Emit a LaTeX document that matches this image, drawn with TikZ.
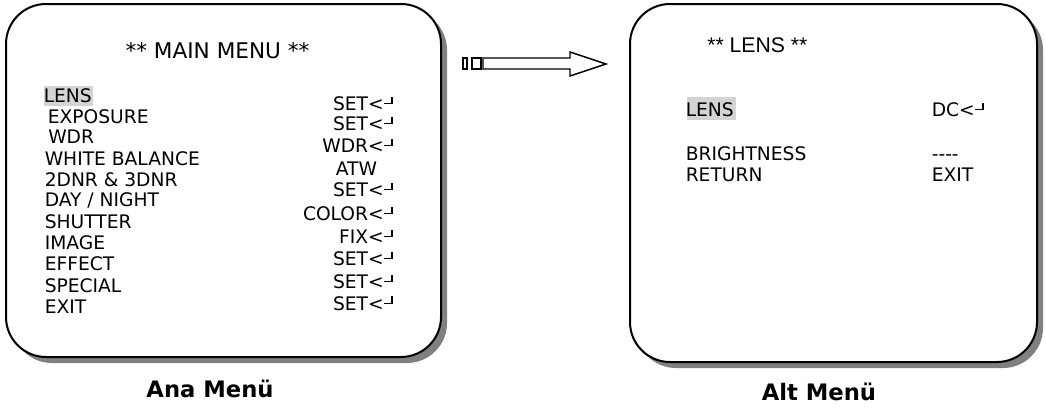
\documentclass[tikz,border=0pt]{standalone}
\usepackage{fontspec}
\setmainfont{DejaVu Sans}
\newfontfamily\arialf{Liberation Sans}
\definecolor{hl}{RGB}{212,212,212}
\definecolor{shd}{RGB}{128,128,128}
\newcommand\retsym{\kern0.03em\rule[0.34em]{0.38em}{0.07em}\rule[0.34em]{0.07em}{0.40em}}
\begin{document}
\begin{tikzpicture}[x=0.75pt,y=-0.75pt,
  txt/.style={inner sep=0pt, font=\fontsize{14}{16}\selectfont},
  item/.style={txt, anchor=base west},
  val/.style={txt, anchor=base east},
  menubox/.style={draw=black, line width=1.5pt, fill=white, rounded corners=30pt},
  shadowbox/.style={fill=shd, rounded corners=30pt},
  hlbox/.style={fill=hl, draw=none},
  arrowpart/.style={draw=black, line width=1.1pt, fill=white},
  caption/.style={inner sep=0pt, anchor=base, font=\fontsize{17}{20}\selectfont\bfseries}]
\useasboundingbox (0,0) rectangle (1046,407);
% left box
\fill[shadowbox] (12,10) rectangle (447,363);
\draw[menubox] (6,4) rectangle (441,357);
% right box
\fill[shadowbox] (636,10) rectangle (1043,368);
\draw[menubox] (630,4) rectangle (1037,362);
% arrow
\draw[arrowpart] (463,58) rectangle (467,69);
\draw[arrowpart] (472,58) rectangle (481,69);
\draw[arrowpart] (483,58) -- (570,58) -- (570,52) -- (606,64) -- (570,76) -- (570,69) -- (483,69) -- cycle;
% main menu
\node[inner sep=0pt, anchor=base, font=\fontsize{16.2}{19}\selectfont] (maintitle) at (217.5,58.5) {** MAIN MENU **};
\fill[hlbox] (44,86) rectangle (93,106);
\node[item] (mlens) at (43.5,102.8) {LENS};
\node[item] (mexp) at (47.5,123.3) {EXPOSURE};
\node[item] (mwdr) at (48,143.8) {WDR};
\node[item] (mwb) at (44.5,165.8) {WHITE BALANCE};
\node[item] (mdnr) at (44.5,186.8) {2DNR \& 3DNR};
\node[item] (mday) at (44.5,206.8) {DAY / NIGHT};
\node[item] (mshut) at (44.5,228.8) {SHUTTER};
\node[item] (mimg) at (44.5,249.8) {IMAGE};
\node[item] (meff) at (44.5,270.8) {EFFECT};
\node[item] (mspec) at (44.5,292.8) {SPECIAL};
\node[item] (mexit) at (44.5,313.8) {EXIT};
\node[val] (v1) at (393,110.8) {SET<\retsym};
\node[val] (v2) at (393,130.8) {SET<\retsym};
\node[val] (v3) at (393,152.8) {WDR<\retsym};
\node[txt, anchor=base] (v4) at (356.5,175.8) {ATW};
\node[val] (v5) at (393,196.8) {SET<\retsym};
\node[val] (v6) at (393,220.8) {COLOR<\retsym};
\node[val] (v7) at (393,243.8) {FIX<\retsym};
\node[val] (v8) at (393,265.8) {SET<\retsym};
\node[val] (v9) at (393,288.8) {SET<\retsym};
\node[val] (v10) at (393,310.3) {SET<\retsym};
% lens menu
\node[inner sep=0pt, anchor=base west, font=\arialf\fontsize{15.9}{18}\selectfont] (lenstitle) at (707,52.5) {** LENS **};
\fill[hlbox] (687,97) rectangle (736,120);
\node[item] (llens) at (685.5,116.8) {LENS};
\node[item] (ldc) at (931.5,116.8) {DC<\retsym};
\node[item] (lbr) at (685.5,160.2) {BRIGHTNESS};
\node[item] (ldash) at (931.5,160.2) {-{}-{}-{}-};
\node[item] (lret) at (685.5,181.8) {RETURN};
\node[item] (lexit) at (931.5,181.8) {EXIT};
% captions
\node[caption] (ana) at (210,397.5) {Ana Menü};
\node[caption] (alt) at (819,400) {Alt Menü};
\end{tikzpicture}
\end{document}
